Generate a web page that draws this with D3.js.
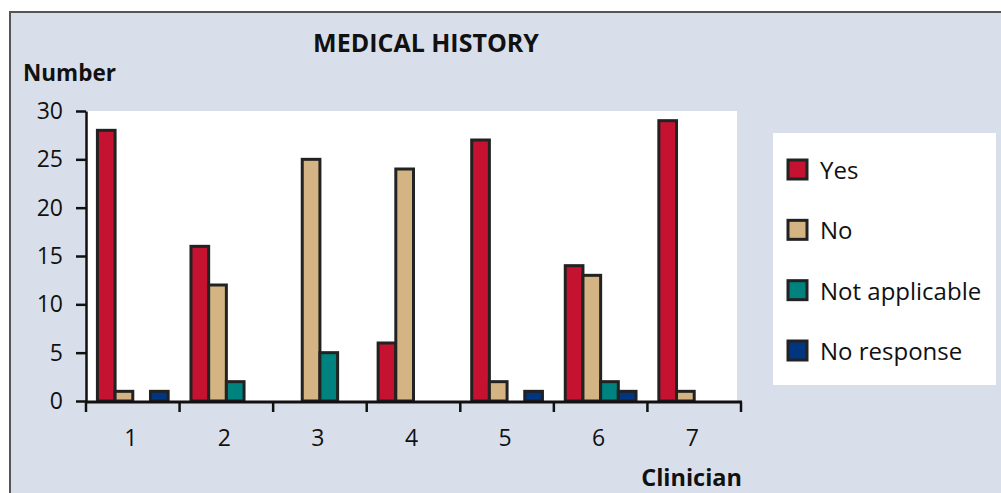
<!DOCTYPE html>
<html>
<head>
<meta charset="utf-8">
<script src="https://cdn.jsdelivr.net/npm/d3@7"></script>
<style>
  html, body { margin: 0; padding: 0; background: #fff; }
  svg { display: block; }
  text { font-family: "Open Sans", "Noto Sans", sans-serif; fill: #111; }
</style>
</head>
<body>
<svg id="chart" width="1001" height="493"></svg>
<script>
// Responses per clinician to the medical-history question
const clinicians = ["1", "2", "3", "4", "5", "6", "7"];
const seriesNames = ["Yes", "No", "Not applicable", "No response"];
const yesValues = [28, 16, 0, 6, 27, 14, 29];
const noValues = [1, 12, 25, 24, 2, 13, 1];
const notApplicableValues = [0, 2, 5, 0, 0, 2, 0];
const noResponseValues = [1, 0, 0, 0, 1, 1, 0];
const yTicks = [0, 5, 10, 15, 20, 25, 30];
const seriesColors = ["#c41230", "#d4b483", "#00827f", "#003580"];

const seriesValues = [yesValues, noValues, notApplicableValues, noResponseValues];

const svg = d3.select("#chart");

// panel background with frame on top and left
svg.append("rect").attr("x", 10).attr("y", 12).attr("width", 991).attr("height", 481)
  .attr("fill", "#d9dfea");
svg.append("path").attr("d", "M10,493V12H1001").attr("fill", "none")
  .attr("stroke", "#555").attr("stroke-width", 2);

// plotting area
const plotLeft = 86, plotRight = 741, plotTop = 111, plotBottom = 401;
svg.append("rect").attr("x", plotLeft + 1).attr("y", plotTop).attr("width", 650)
  .attr("height", plotBottom - plotTop + 1).attr("fill", "#fff");

const x = d3.scaleBand().domain(clinicians).range([plotLeft, plotRight]).padding(0);
const xs = d3.scaleBand().domain(seriesNames).range([0, x.bandwidth()])
  .paddingInner(0).paddingOuter(0.645);
const y = d3.scaleLinear().domain([0, 30]).range([plotBottom, plotTop]);
const color = d3.scaleOrdinal().domain(seriesNames).range(seriesColors);

// bars
const groups = svg.append("g").selectAll("g").data(clinicians).join("g")
  .attr("transform", d => `translate(${x(d)},0)`);
groups.selectAll("rect")
  .data((c, i) => seriesNames.map((s, k) => ({ s, v: seriesValues[k][i] })).filter(d => d.v > 0))
  .join("rect")
  .attr("x", d => xs(d.s))
  .attr("width", xs.bandwidth())
  .attr("y", d => y(d.v))
  .attr("height", d => y(0) - y(d.v))
  .attr("fill", d => color(d.s))
  .attr("stroke", "#222")
  .attr("stroke-width", 3);

// y axis
const yAxis = svg.append("g").attr("transform", `translate(${plotLeft},0)`)
  .call(d3.axisLeft(y).tickValues(yTicks).tickSize(10).tickPadding(13).tickSizeOuter(0));
yAxis.select(".domain").attr("stroke", "#111").attr("stroke-width", 2.5);
yAxis.selectAll(".tick line").attr("stroke", "#111").attr("stroke-width", 2.5);
yAxis.selectAll(".tick text").attr("font-size", 23).attr("font-family", "Open Sans, sans-serif")
  .attr("fill", "#111");

// x axis: ticks at the band boundaries, labels at band centres
const xAxisG = svg.append("g").attr("transform", `translate(0,${plotBottom + 1})`);
xAxisG.append("line").attr("x1", plotLeft - 1).attr("x2", plotRight + 1).attr("y1", 0).attr("y2", 0)
  .attr("stroke", "#111").attr("stroke-width", 3);
const boundaries = clinicians.map(c => x(c)).concat([x(clinicians[clinicians.length - 1]) + x.bandwidth()]);
xAxisG.selectAll("line.tk").data(boundaries).join("line").attr("class", "tk")
  .attr("x1", d => d).attr("x2", d => d).attr("y1", 0).attr("y2", 10)
  .attr("stroke", "#111").attr("stroke-width", 2.5);
xAxisG.selectAll("text").data(clinicians).join("text")
  .attr("x", d => x(d) + x.bandwidth() / 2 - 2)
  .attr("y", 44)
  .attr("text-anchor", "middle")
  .attr("font-size", 23)
  .text(d => d);

// titles
svg.append("text").attr("x", 426).attr("y", 52).attr("text-anchor", "middle")
  .attr("font-size", 25).attr("font-weight", "bold").text("MEDICAL HISTORY");
svg.append("text").attr("x", 23).attr("y", 81)
  .attr("font-size", 22.5).attr("font-weight", "bold").text("Number");
svg.append("text").attr("x", 742).attr("y", 486).attr("text-anchor", "end")
  .attr("font-size", 23.5).attr("font-weight", "bold").text("Clinician");

// legend
const legend = svg.append("g");
legend.append("rect").attr("x", 773).attr("y", 133).attr("width", 223).attr("height", 252).attr("fill", "#fff");
const ly = d3.scalePoint().domain(seriesNames).range([170, 351]);
const items = legend.selectAll("g").data(seriesNames).join("g")
  .attr("transform", d => `translate(0,${ly(d)})`);
items.append("rect").attr("x", 788).attr("y", -10).attr("width", 19).attr("height", 19)
  .attr("fill", d => color(d)).attr("stroke", "#222").attr("stroke-width", 3);
items.append("text").attr("x", 820).attr("y", 9).attr("font-size", 24).text(d => d);
</script>
</body>
</html>
